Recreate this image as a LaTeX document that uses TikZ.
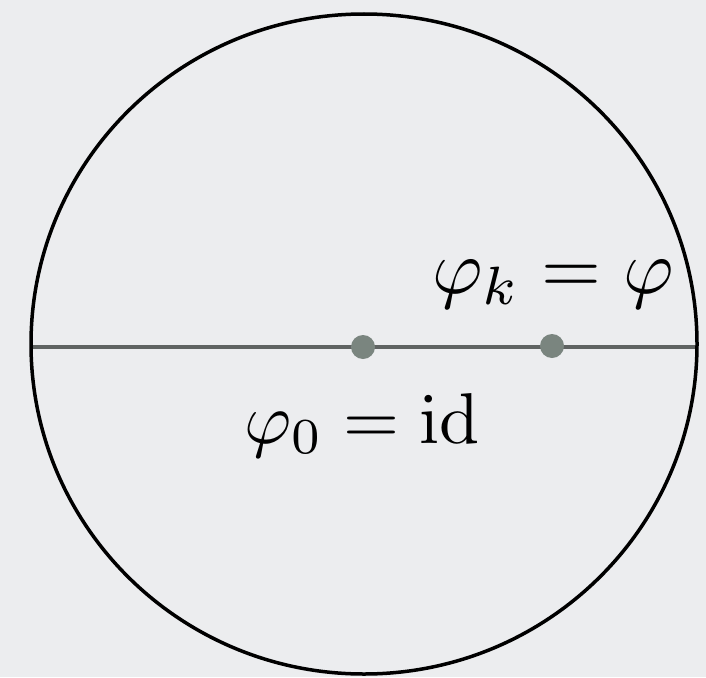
\documentclass[tikz,border=0pt]{standalone}
\usepackage{amsmath}
\definecolor{bgc}{RGB}{236,237,239}
\definecolor{linec}{RGB}{95,99,98}
\definecolor{dotc}{RGB}{122,133,127}
\tikzset{
  dotnode/.style={circle,fill=dotc,inner sep=0pt,minimum size=24pt},
  lbl/.style={scale=7.2,anchor=base,inner sep=0pt}
}
\begin{document}
\begin{tikzpicture}[x=1pt,y=-1pt]
\fill[bgc] (0,0) rectangle (706,677);
\useasboundingbox (0,0) rectangle (706,677);
\coordinate (L) at (31,347);
\coordinate (R) at (697,347);
\draw[linec,line width=3.5pt] (L) -- (R);
\draw[black,line width=3.5pt] (364,344) ellipse [x radius=333pt, y radius=330pt];
\node[dotnode] (p0) at (363,347) {};
\node[dotnode] (pk) at (552,346) {};
\node[lbl,scale=1.07] (tk) at (553,293) {$\varphi_k = \varphi$};
\node[lbl] (t0) at (362,443) {$\varphi_0 = \mathrm{id}$};
\end{tikzpicture}
\end{document}
